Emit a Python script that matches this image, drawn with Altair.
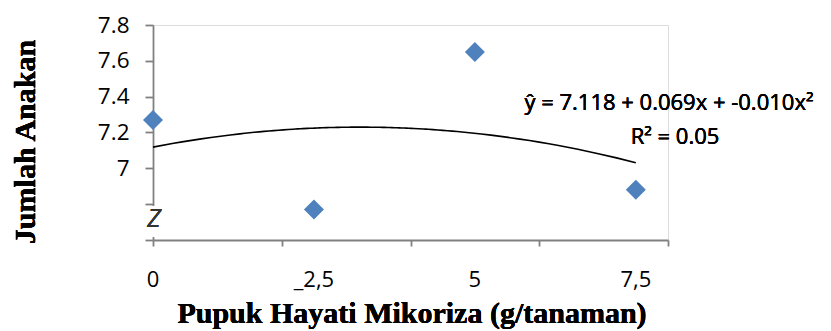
import altair as alt
import pandas as pd

# data
dose = [0, 2.5, 5, 7.5]
anakan = [7.27, 6.77, 7.65, 6.88]
x_labels = ["0", "_2,5", "5", "7,5"]
y_ticks = [6.6, 6.8, 7.0, 7.2, 7.4, 7.6, 7.8]
x_ticks = [0, 2, 4, 6, 8]
eq_lines = ["ŷ = 7.118 + 0.069x + -0.010x²", "R² = 0.05"]

df = pd.DataFrame({"x": dose, "y": anakan})
df_lab = pd.DataFrame({"x": dose, "lab": x_labels})

AX = "#808080"
SANS = "Open Sans"
SERIF = "Liberation Serif"

xs = alt.Scale(domain=[0, 8], nice=False)
ys = alt.Scale(domain=[6.6, 7.8], nice=False, zero=False)

x_axis = alt.Axis(values=x_ticks, labels=False, grid=False,
                  tickSize=6, tickColor=AX, domainColor=AX,
                  domainWidth=1.8, tickWidth=1.8, ticks=True)
y_axis = alt.Axis(values=y_ticks, grid=False, tickSize=8, ticks=True,
                  tickColor=AX, domainColor=AX, domainWidth=1.8,
                  tickWidth=1.8, labelFont=SANS, labelFontSize=22.5,
                  labelColor="black", labelPadding=16, labelOverlap=False,
                  labelExpr="datum.value >= 6.99 ? format(datum.value, '.1~f') : ''")

x_enc = alt.X("x:Q", scale=xs, title=None, axis=x_axis)
y_enc = alt.Y("y:Q", scale=ys, title=None, axis=y_axis)

base = alt.Chart(df)

points = base.mark_point(shape="diamond", filled=True, size=400,
                         color="#4f81bd", opacity=1).encode(x=x_enc, y=y_enc)

trend = base.transform_regression("x", "y", method="poly", order=2).mark_line(
    color="black", strokeWidth=1.6).encode(x=x_enc, y=y_enc)

cover = alt.Chart(df).mark_rect(color="white").encode(
    x=alt.value(-6), x2=alt.value(6), y=alt.value(181), y2=alt.value(212))

zmark = alt.Chart(df).mark_text(text="Z", font=SANS, fontSize=25, fontStyle="italic",
                                color="#333333", baseline="middle", align="center").encode(
    x=alt.value(1), y=alt.value(194))

xlab = alt.Chart(df_lab).mark_text(font=SANS, fontSize=22, color="black",
                                   baseline="middle", align="center").encode(
    x=x_enc, y=alt.value(255), text="lab:N")

eq1 = alt.Chart(df).mark_text(text=eq_lines[0], font=SANS, fontSize=22, color="black",
                              baseline="middle", align="center").encode(
    x=alt.value(516), y=alt.value(78))
eq2 = alt.Chart(df).mark_text(text=eq_lines[1], font=SANS, fontSize=22, color="black",
                              baseline="middle", align="center").encode(
    x=alt.value(522), y=alt.value(112))

ytitle = alt.Chart(df).mark_text(text="Jumlah Anakan", font=SERIF, fontSize=30,
                                 fontWeight="bold", angle=270, color="black",
                                 baseline="alphabetic", align="center").encode(
    x=alt.value(-118), y=alt.value(117))
xtitle = alt.Chart(df).mark_text(text="Pupuk Hayati Mikoriza (g/tanaman)", font=SERIF,
                                 fontSize=30, fontWeight="bold", color="black",
                                 baseline="alphabetic", align="center").encode(
    x=alt.value(259), y=alt.value(298))

chart = alt.layer(points, trend, cover, zmark, xlab, eq1, eq2, ytitle, xtitle).properties(
    width=515, height=215,
    padding={"left": 145, "top": 17, "right": 155, "bottom": 91},
    autosize="none",
).configure_view(stroke=None).configure(background="white")

chart.save("out.html", embed_options={"renderer": "svg", "actions": False})
